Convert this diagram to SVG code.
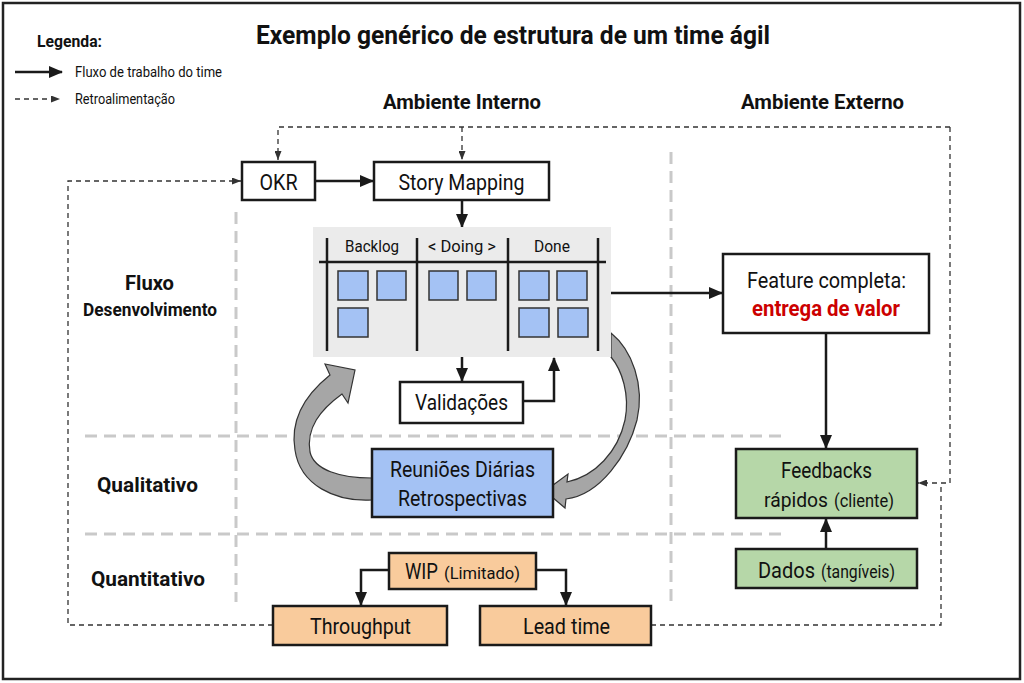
<svg xmlns="http://www.w3.org/2000/svg" width="1024" height="683" viewBox="0 0 1024 683">
<style>
text{font-family:Roboto,"Liberation Sans",sans-serif;fill:#111}
.box{stroke:#1a1a1a;stroke-width:2.5}
.w{fill:#fff}
.blue{fill:#a4c2f4}
.green{fill:#b6d7a8}
.orange{fill:#f9cb9c}
.card{fill:#a4c2f4;stroke:#333;stroke-width:1.5}
.flow{fill:none;stroke:#1a1a1a;stroke-width:2.5;marker-end:url(#ah)}
.fb{fill:none;stroke:#333;stroke-width:1.3;stroke-dasharray:5 4}
.fba{fill:none;stroke:#333;stroke-width:1.3;stroke-dasharray:5 4;marker-end:url(#dh)}
.div{fill:none;stroke:#c9c9c9;stroke-width:3;stroke-dasharray:12 7}
.lbl{font-size:22px;text-anchor:middle}
.st{font-size:22px}
.sm{font-size:18px}
.b{font-weight:bold}
.curl{fill:#a6a6a6;stroke:#333;stroke-width:1.2}
</style>
<defs>
<marker id="ah" markerUnits="userSpaceOnUse" markerWidth="14" markerHeight="12" refX="13" refY="6" orient="auto"><path d="M0,0 L14,6 L0,12 z" fill="#1a1a1a"/></marker>
<marker id="dh" markerUnits="userSpaceOnUse" markerWidth="9" markerHeight="7" refX="9" refY="3.5" orient="auto"><path d="M0,0 L9,3.5 L0,7 z" fill="#333"/></marker>
</defs>
<rect x="0" y="0" width="1024" height="683" fill="#fff"/>
<rect x="3" y="3" width="1017" height="676" fill="none" stroke="#222" stroke-width="2.5"/>

<text x="256" y="44" font-size="26" font-weight="bold" textLength="514" lengthAdjust="spacingAndGlyphs">Exemplo genérico de estrutura de um time ágil</text>

<g id="legend">
<text x="37" y="47" font-size="16" font-weight="bold" textLength="65" lengthAdjust="spacingAndGlyphs">Legenda:</text>
<line x1="15" y1="72" x2="62" y2="72" stroke="#1a1a1a" stroke-width="2.5" marker-end="url(#ah)"/>
<text x="75" y="77" font-size="14" textLength="147" lengthAdjust="spacingAndGlyphs">Fluxo de trabalho do time</text>
<line x1="15" y1="99" x2="60" y2="99" class="fba"/>
<text x="75" y="104" font-size="14" textLength="100" lengthAdjust="spacingAndGlyphs">Retroalimentação</text>
</g>

<text x="383" y="109" font-size="20" font-weight="bold" textLength="158" lengthAdjust="spacingAndGlyphs">Ambiente Interno</text>
<text x="741" y="109" font-size="20" font-weight="bold" textLength="163" lengthAdjust="spacingAndGlyphs">Ambiente Externo</text>

<g id="dividers">
<path class="div" d="M85,436 H785"/>
<path class="div" d="M85,534 H785"/>
<path class="div" d="M236,212 V602"/>
<path class="div" d="M671,152 V602"/>
</g>

<g id="row-labels">
<text x="125" y="290" font-size="21" class="b" textLength="49" lengthAdjust="spacingAndGlyphs">Fluxo</text>
<text x="83" y="316" font-size="18" class="b" textLength="134" lengthAdjust="spacingAndGlyphs">Desenvolvimento</text>
<text x="97" y="492" font-size="20" class="b" textLength="101" lengthAdjust="spacingAndGlyphs">Qualitativo</text>
<text x="91" y="586" font-size="20" class="b" textLength="114" lengthAdjust="spacingAndGlyphs">Quantitativo</text>
</g>

<g id="connectors">
<path class="flow" d="M315,181 H373"/>
<path class="flow" d="M462,200 V227"/>
<path class="flow" d="M462,357 V381"/>
<path class="flow" d="M523,401 H554 V358"/>
<path class="flow" d="M611,293 H722"/>
<path class="flow" d="M826,333 V448"/>
<path class="flow" d="M826,549 V519"/>
<path class="flow" d="M389,570 H361 V605"/>
<path class="flow" d="M536,570 H566 V605"/>
<path class="fba" d="M462,127 V160"/>
<path class="fba" d="M950,127 H278 V160"/>
<path class="fba" d="M950,127 V483 H918"/>
<path class="fb" d="M651,625 H941 V484"/>
<path class="fba" d="M273,625 H68 V181 H241"/>
<path id="curl-left" class="curl" d="M372,500 C335,502 300,485 295,450 C290,420 305,395 330,375 L325,364 L355,370 L348,403 L342,394 C320,410 306,428 310,452 C314,470 340,478 372,478 Z"/>
<path id="curl-right" class="curl" d="M611,333 C632,350 645,385 637,420 C628,455 600,495 566,499 L565,508 L545,491 L568,474 L567,482 C595,476 618,452 625,420 C630,395 622,370 611,357 Z"/>
</g>

<g id="okr"><rect class="box w" x="242" y="162" width="73" height="38"/><text class="lbl" x="278.5" y="190" textLength="38" lengthAdjust="spacingAndGlyphs">OKR</text></g>
<g id="story-mapping"><rect class="box w" x="374" y="162" width="175" height="38"/><text class="lbl" x="461.5" y="190" textLength="126" lengthAdjust="spacingAndGlyphs">Story Mapping</text></g>

<g id="board">
<rect x="313" y="227" width="298" height="130" fill="#ebebeb"/>
<g stroke="#1a1a1a" stroke-width="2.5">
<line x1="319" y1="262" x2="606" y2="262"/>
<line x1="327" y1="238" x2="327" y2="351"/>
<line x1="417" y1="238" x2="417" y2="351"/>
<line x1="508" y1="238" x2="508" y2="351"/>
<line x1="598" y1="238" x2="598" y2="351"/>
</g>
<text x="372" y="252" font-size="17" text-anchor="middle" textLength="54" lengthAdjust="spacingAndGlyphs">Backlog</text>
<text x="462" y="252" font-size="17" text-anchor="middle" textLength="68" lengthAdjust="spacingAndGlyphs">&lt; Doing &gt;</text>
<text x="552" y="252" font-size="17" text-anchor="middle" textLength="36" lengthAdjust="spacingAndGlyphs">Done</text>
<rect class="card" x="338" y="271" width="30" height="29"/>
<rect class="card" x="377" y="271" width="29" height="29"/>
<rect class="card" x="338" y="308" width="30" height="29"/>
<rect class="card" x="429" y="271" width="29" height="29"/>
<rect class="card" x="467" y="271" width="29" height="29"/>
<rect class="card" x="519" y="271" width="30" height="29"/>
<rect class="card" x="557" y="271" width="30" height="29"/>
<rect class="card" x="519" y="308" width="30" height="29"/>
<rect class="card" x="558" y="308" width="30" height="29"/>
</g>

<g id="validacoes"><rect class="box w" x="400" y="382" width="123" height="41"/><text class="lbl" x="461.5" y="410" textLength="93" lengthAdjust="spacingAndGlyphs">Validações</text></g>

<g id="feature"><rect class="box w" x="723" y="254" width="206" height="79"/>
<text class="lbl" x="826.5" y="288" textLength="159" lengthAdjust="spacingAndGlyphs">Feature completa:</text>
<text class="lbl b" x="826" y="316" style="fill:#cc0000" textLength="148" lengthAdjust="spacingAndGlyphs">entrega de valor</text></g>

<g id="reunioes"><rect class="box blue" x="372" y="449" width="181" height="68"/>
<text class="lbl" x="462.5" y="477" textLength="145" lengthAdjust="spacingAndGlyphs">Reuniões Diárias</text>
<text class="lbl" x="462.5" y="506" textLength="129" lengthAdjust="spacingAndGlyphs">Retrospectivas</text></g>

<g id="feedbacks"><rect class="box green" x="736" y="449" width="181" height="69"/>
<text class="lbl" x="826.5" y="478" textLength="91" lengthAdjust="spacingAndGlyphs">Feedbacks</text>
<text x="764" y="507" font-size="20" textLength="64" lengthAdjust="spacingAndGlyphs">rápidos</text>
<text class="sm" x="834" y="507" textLength="60" lengthAdjust="spacingAndGlyphs">(cliente)</text></g>

<g id="dados"><rect class="box green" x="736" y="549" width="181" height="39"/>
<text class="st" x="758" y="578" textLength="57" lengthAdjust="spacingAndGlyphs">Dados</text>
<text class="sm" x="821" y="578" textLength="74" lengthAdjust="spacingAndGlyphs">(tangíveis)</text></g>

<g id="wip"><rect class="box orange" x="389" y="553" width="147" height="36"/>
<text class="st" x="405" y="579" textLength="33" lengthAdjust="spacingAndGlyphs">WIP</text>
<text x="444" y="579" style="font-size:17px" textLength="76" lengthAdjust="spacingAndGlyphs">(Limitado)</text></g>

<g id="throughput"><rect class="box orange" x="273" y="606" width="174" height="39"/>
<text class="lbl" x="360.5" y="634" textLength="101" lengthAdjust="spacingAndGlyphs">Throughput</text></g>

<g id="lead-time"><rect class="box orange" x="480" y="606" width="171" height="39"/>
<text class="lbl" x="566.5" y="634" textLength="87" lengthAdjust="spacingAndGlyphs">Lead time</text></g>
</svg>
